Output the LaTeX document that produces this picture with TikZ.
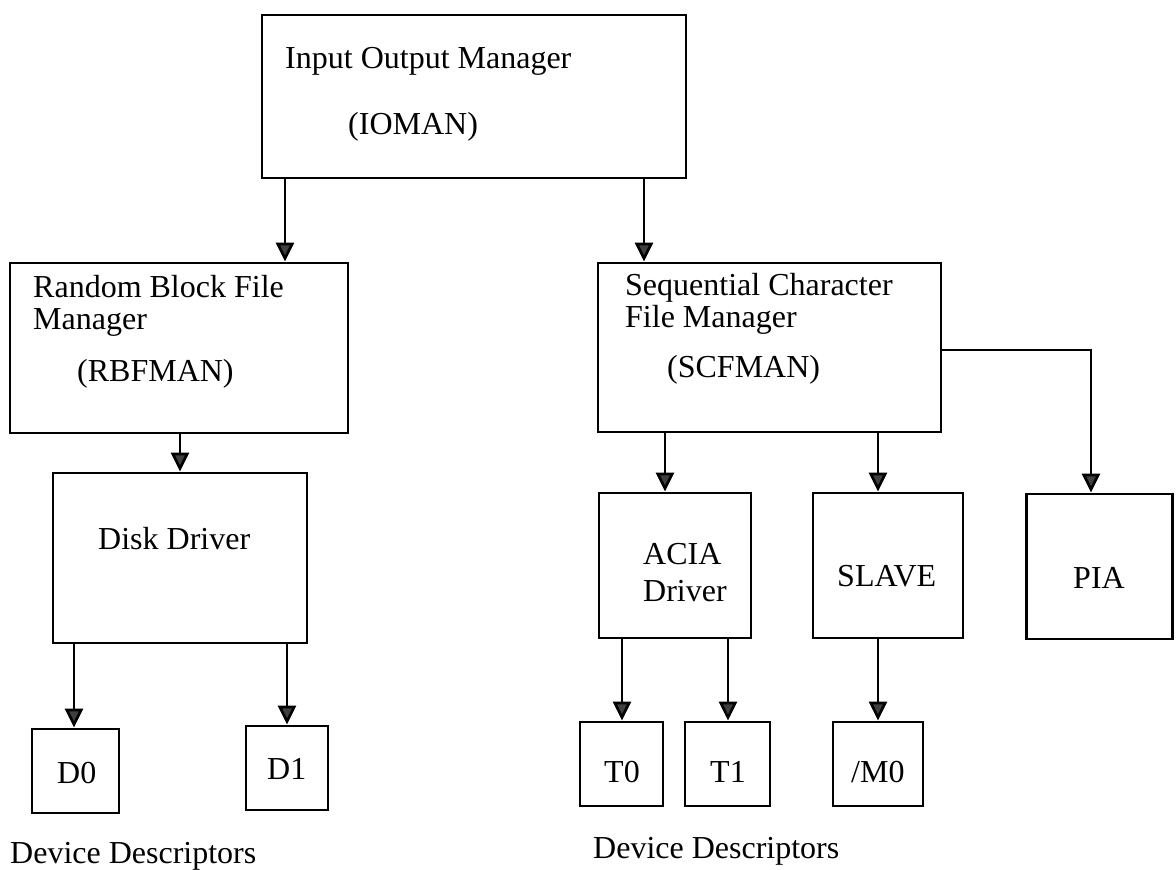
\documentclass[tikz,border=0pt]{standalone}
\usepackage{fontspec}
\setmainfont{Liberation Serif}
\usetikzlibrary{arrows.meta}
\begin{document}
\begin{tikzpicture}[x=1pt,y=-1pt,
  box/.style={draw,line width=2.9pt,rectangle,inner sep=0pt,anchor=center},
  lbl/.style={anchor=base west,inner sep=0pt,font=\fontsize{32}{37}\selectfont},
  arr/.style={line width=2.7pt,-{Triangle[length=19pt,width=18pt,fill=black!75]}}]
\useasboundingbox (0,0) rectangle (1176,870);

% boxes
\node[box,minimum width=424pt,minimum height=163pt] (io)    at (474,96.5) {};
\node[box,minimum width=338pt,minimum height=170pt] (rbf)   at (179,348) {};
\node[box,minimum width=343pt,minimum height=169pt] (scf)   at (769.5,347.5) {};
\node[box,minimum width=254pt,minimum height=170pt] (disk)  at (180,558) {};
\node[box,minimum width=152pt,minimum height=145pt] (acia)  at (675,565.5) {};
\node[box,minimum width=150pt,minimum height=145pt] (slave) at (888,565.5) {};
\node[box,minimum width=146pt,minimum height=145pt] (pia)   at (1099.5,566.5) {};
\node[box,minimum width=87pt,minimum height=84pt]   (d0)    at (75.5,771) {};
\node[box,minimum width=82pt,minimum height=84pt]   (d1)    at (287,768) {};
\node[box,minimum width=83pt,minimum height=84pt]   (t0)    at (621.5,764) {};
\node[box,minimum width=85pt,minimum height=84pt]   (t1)    at (727.5,764) {};
\node[box,minimum width=90pt,minimum height=84pt]   (m0)    at (878,764) {};

% texts
\node[lbl] (ioA) at (285,68)  {Input Output Manager};
\node[lbl] (ioB) at (348,134) {(IOMAN)};
\node[lbl] (rbA) at (33,297)  {Random Block File};
\node[lbl] (rbB) at (33,329)  {Manager};
\node[lbl] (rbC) at (77,381)  {(RBFMAN)};
\node[lbl] (scA) at (625,295) {Sequential Character};
\node[lbl] (scB) at (625,327) {File Manager};
\node[lbl] (scC) at (667,377) {(SCFMAN)};
\node[lbl] (dkA) at (98,549)  {Disk Driver};
\node[lbl] (acA) at (643,564) {ACIA};
\node[lbl] (acB) at (643,601) {Driver};
\node[lbl] (slA) at (837,586) {SLAVE};
\node[lbl] (piA) at (1073,588) {PIA};
\node[lbl] (d0A) at (57,783)  {D0};
\node[lbl] (d1A) at (267,779) {D1};
\node[lbl] (t0A) at (604,782) {T0};
\node[lbl] (t1A) at (710,782) {T1};
\node[lbl] (m0A) at (851,782) {/M0};
\node[lbl] (ddL) at (10,863)  {Device Descriptors};
\node[lbl] (ddR) at (593,858) {Device Descriptors};

% connector columns
\coordinate (c1) at (285,0);
\coordinate (c2) at (644,0);
\coordinate (c3) at (74,0);
\coordinate (c4) at (287,0);
\coordinate (c5) at (665,0);
\coordinate (c6) at (878,0);
\coordinate (c7) at (1091,0);
\coordinate (c8) at (622,0);
\coordinate (c9) at (728,0);

% connectors
\draw[arr] (io.south -| c1) -- (c1 |- rbf.north);
\draw[arr] (io.south -| c2) -- (c2 |- scf.north);
\draw[arr] (rbf.south -| disk.north) -- (disk.north);
\draw[arr] (disk.south -| c3) -- (c3 |- d0.north);
\draw[arr] (disk.south -| c4) -- (c4 |- d1.north);
\draw[arr] (scf.south -| c5) -- (c5 |- acia.north);
\draw[arr] (scf.south -| c6) -- (c6 |- slave.north);
\coordinate (bend) at (1091,350);
\draw[arr] (scf.east |- bend) -- (bend) -- (c7 |- pia.north);
\draw[arr] (acia.south -| c8) -- (c8 |- t0.north);
\draw[arr] (acia.south -| c9) -- (c9 |- t1.north);
\draw[arr] (slave.south -| c6) -- (c6 |- m0.north);
\end{tikzpicture}
\end{document}
